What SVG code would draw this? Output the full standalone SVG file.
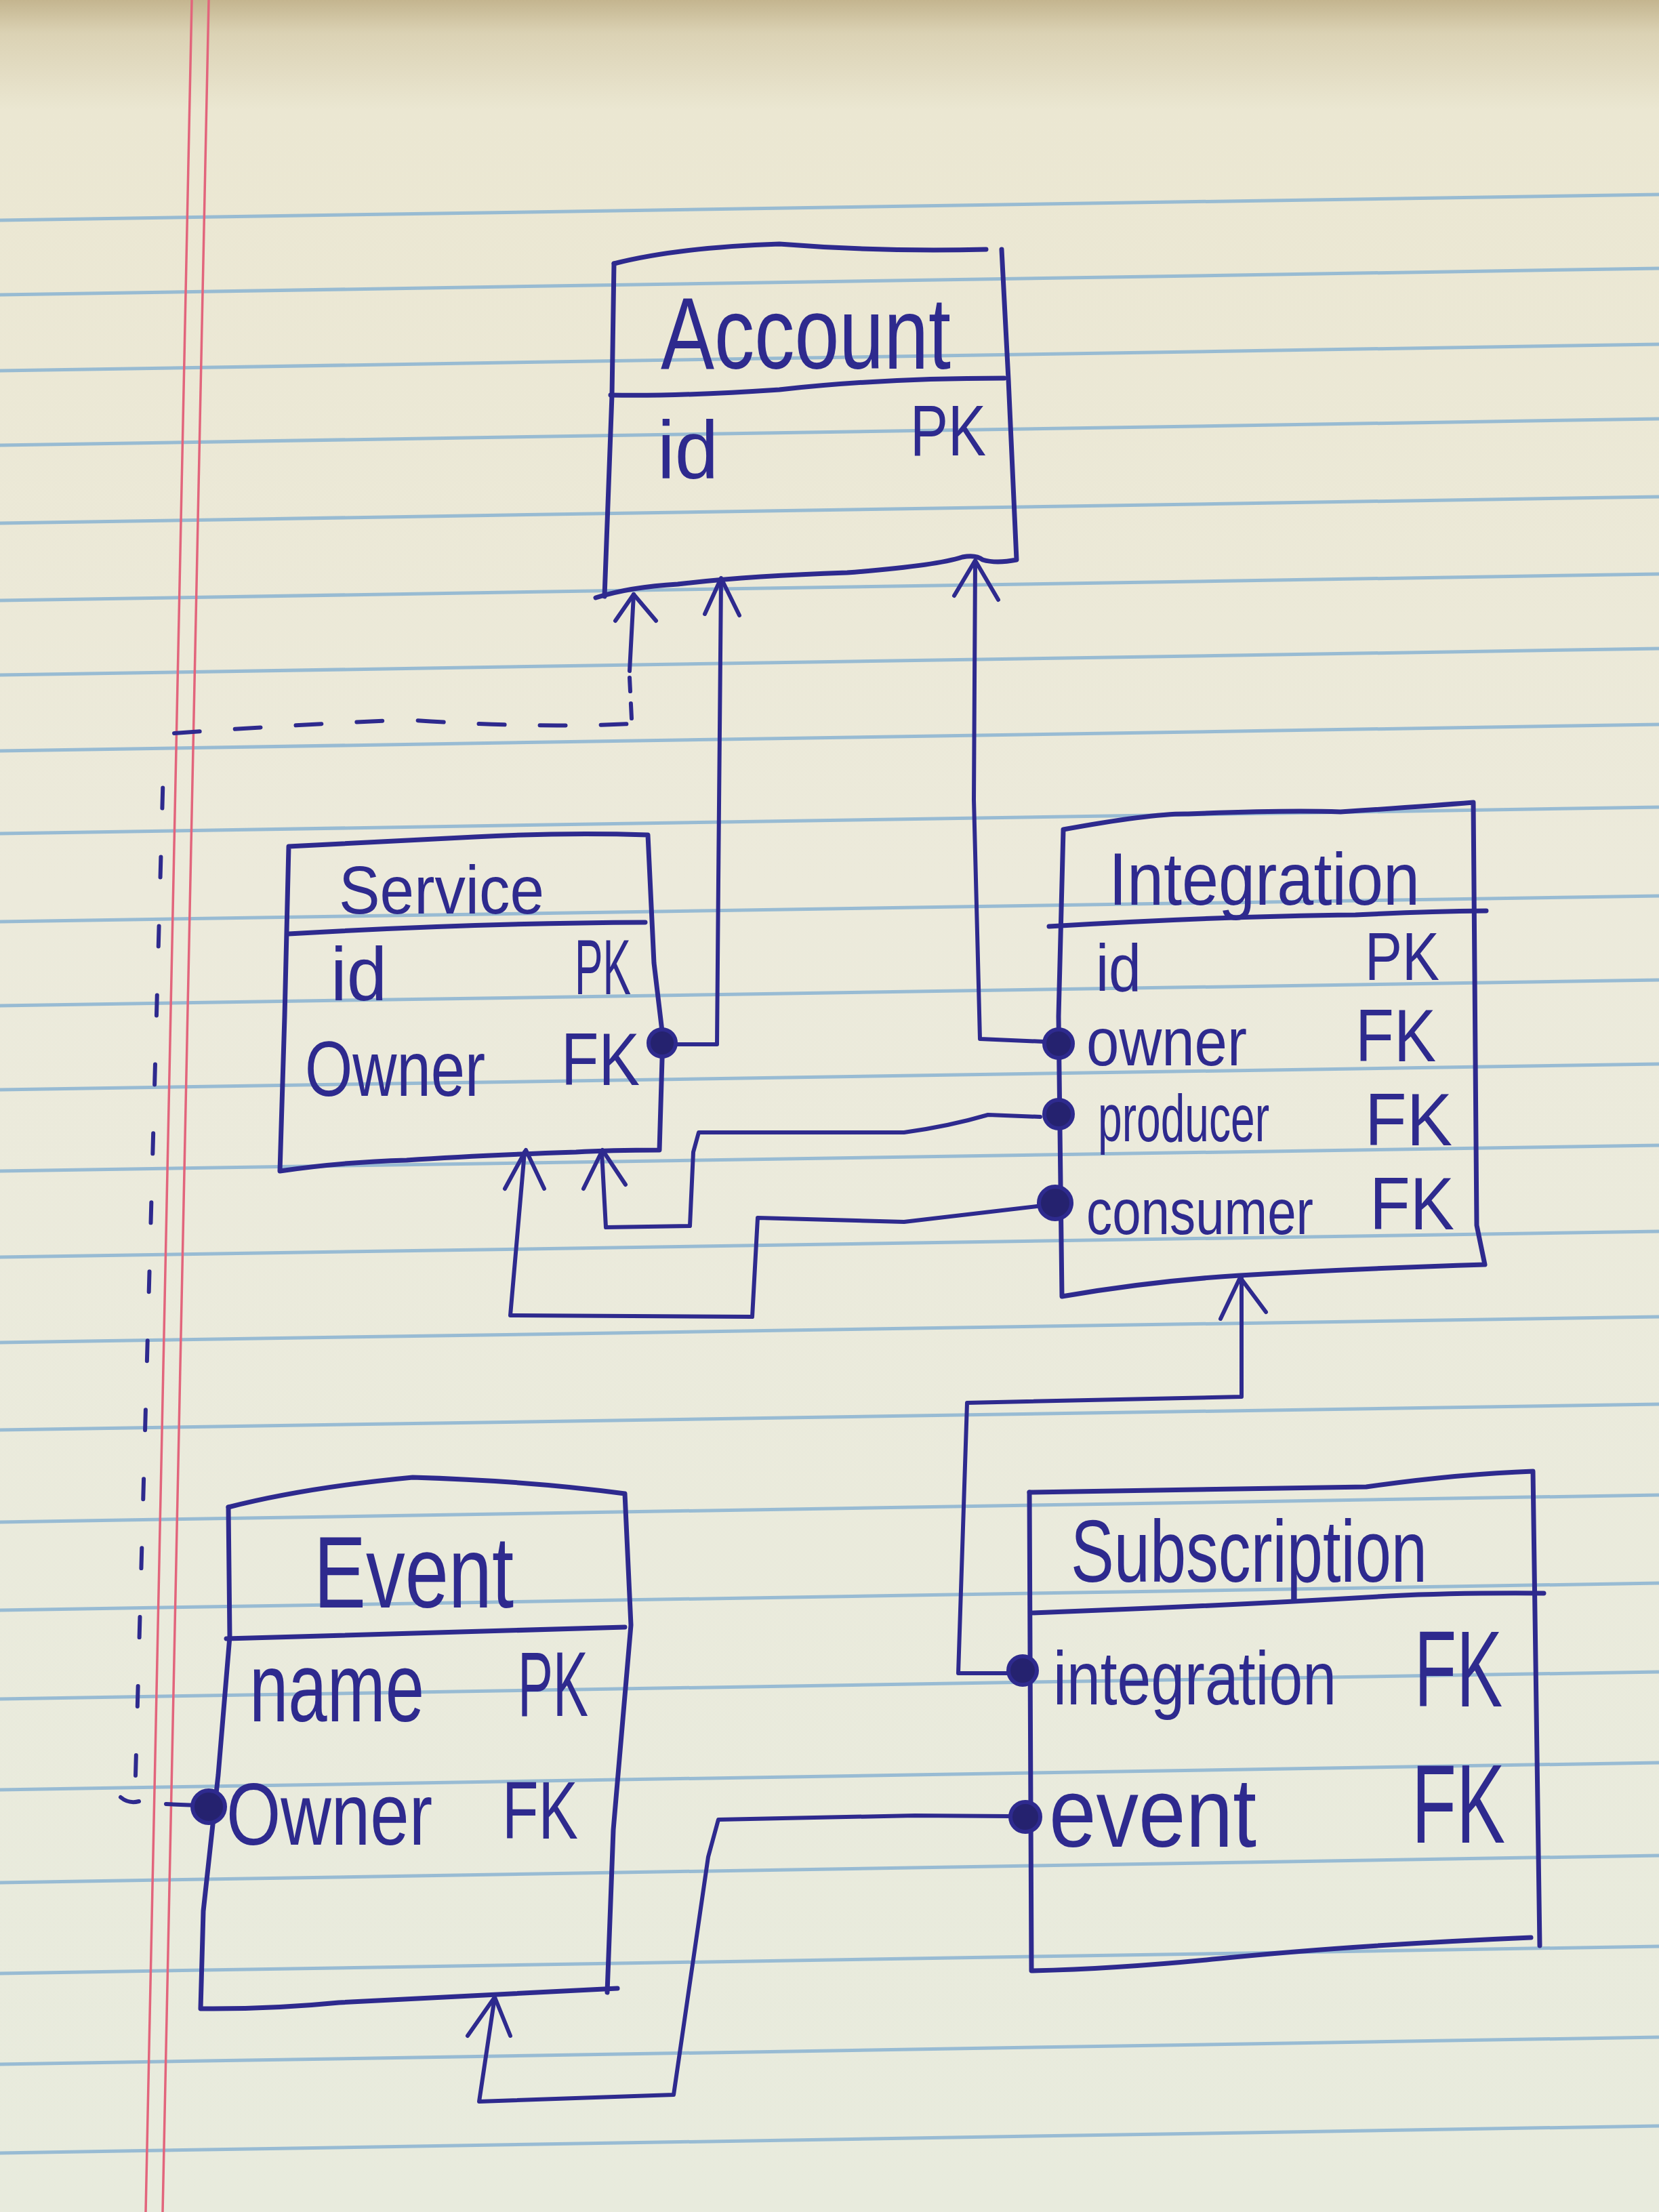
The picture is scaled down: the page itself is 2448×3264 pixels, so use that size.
<svg xmlns="http://www.w3.org/2000/svg" width="2448" height="3264" viewBox="0 0 2448 3264">
<defs>
<linearGradient id="paper" x1="0" y1="0" x2="0" y2="1">
<stop offset="0" stop-color="#c4b58f"/>
<stop offset="0.015" stop-color="#dbd2b4"/>
<stop offset="0.05" stop-color="#ebe7d2"/>
<stop offset="0.4" stop-color="#eceadb"/>
<stop offset="1" stop-color="#e8ebdd"/>
</linearGradient>
<style>
.rule{stroke:#8fb6d2;stroke-width:5;fill:none;opacity:.9}
.margin{stroke:#e2657c;stroke-width:3.5;fill:none}
.box{fill:none;stroke:#2e2a8e;stroke-width:7;stroke-linejoin:round;stroke-linecap:round}
.con{fill:none;stroke:#2e2a8e;stroke-width:6;stroke-linejoin:round;stroke-linecap:round}
.dash{fill:none;stroke:#2e2a8e;stroke-width:6;stroke-linecap:round}
.dot{fill:#25226f;stroke:#2e2a8e;stroke-width:6}
.t{font-family:"Liberation Sans",Arial,sans-serif;fill:#2e2a8e}
</style>
</defs>
<rect width="2448" height="3264" fill="url(#paper)"/>
<g id="paper-rules">
<path class="rule" d="M0,325 L2448,287"/>
<path class="rule" d="M0,435 L2448,396"/>
<path class="rule" d="M0,547 L2448,508"/>
<path class="rule" d="M0,657 L2448,618"/>
<path class="rule" d="M0,772 L2448,733"/>
<path class="rule" d="M0,886 L2448,847"/>
<path class="rule" d="M0,996 L2448,957"/>
<path class="rule" d="M0,1108 L2448,1069"/>
<path class="rule" d="M0,1230 L2448,1191"/>
<path class="rule" d="M0,1360 L2448,1322"/>
<path class="rule" d="M0,1484 L2448,1446"/>
<path class="rule" d="M0,1608 L2448,1570"/>
<path class="rule" d="M0,1728 L2448,1690"/>
<path class="rule" d="M0,1855 L2448,1817"/>
<path class="rule" d="M0,1981 L2448,1943"/>
<path class="rule" d="M0,2110 L2448,2072"/>
<path class="rule" d="M0,2246 L2448,2206"/>
<path class="rule" d="M0,2376 L2448,2336"/>
<path class="rule" d="M0,2507 L2448,2467"/>
<path class="rule" d="M0,2641 L2448,2601"/>
<path class="rule" d="M0,2778 L2448,2738"/>
<path class="rule" d="M0,2912 L2448,2872"/>
<path class="rule" d="M0,3046 L2448,3006"/>
<path class="rule" d="M0,3177 L2448,3137"/>
<path class="margin" d="M283,0 L215,3264"/>
<path class="margin" d="M308,0 L240,3264"/>
</g>

<g id="connectors">
<!-- Service.owner -> Account -->
<path class="con" d="M1000,1541 L1058,1541 L1060,1300 L1064,855"/>
<path class="con" d="M1040,906 L1064,853 L1091,908"/>
<!-- Integration.owner -> Account -->
<path class="con" d="M1540,1537 L1446,1533 L1437,1180 L1439,829"/>
<path class="con" d="M1408,879 L1439,827 L1473,885"/>
<!-- Integration.producer -> Service -->
<path class="con" d="M1535,1648 L1458,1645 Q1400,1662 1334,1671 L1031,1671 L1023,1700 L1018,1809 L894,1811 L888,1700"/>
<path class="con" d="M861,1754 L889,1697 L923,1748"/>
<!-- Integration.consumer -> Service -->
<path class="con" d="M1530,1780 L1334,1803 L1118,1797 L1110,1943 L753,1941 L774,1700"/>
<path class="con" d="M745,1754 L776,1697 L803,1754"/>
<!-- Subscription.integration -> Integration -->
<path class="con" d="M1488,2469 L1414,2469 L1427,2070 L1832,2061 L1832,1886"/>
<path class="con" d="M1801,1946 L1830,1885 L1868,1936"/>
<!-- Subscription.event -> Event -->
<path class="con" d="M1490,2680 L1350,2679 L1060,2685 L1045,2740 L994,3091 L707,3101 L730,2947"/>
<path class="con" d="M690,3004 L730,2947 L753,3004"/>
<!-- Event.owner -> Account (dashed) -->
<path class="con" d="M245,2662 L292,2664"/>
<path class="dash" d="M178,2652 Q190,2662 205,2658"/>
<path class="dash" stroke-dasharray="30 72" d="M200,2620 L242,1098"/>
<path class="dash" stroke-dasharray="38 52" d="M257,1082 Q420,1070 600,1062 Q780,1075 932,1068"/>
<path class="dash" stroke-dasharray="22 18" d="M932,1060 L929,1000"/>
<path class="con" d="M929,990 L935,877"/>
<path class="con" d="M908,916 L935,877 L968,916"/>
</g>

<g id="account">
<path class="box" d="M906,389 Q1000,365 1150,360 Q1300,372 1455,368"/>
<path class="box" d="M1478,368 L1488,560 L1500,826 Q1470,832 1450,826 Q1440,818 1420,822 Q1380,835 1250,845 Q1100,850 1000,862 Q930,866 879,882"/>
<path class="box" d="M906,389 L903,583 L892,880"/>
<path class="box" d="M901,583 Q1000,585 1150,575 Q1300,558 1482,558"/>
<text class="t" x="975" y="544" font-size="150" textLength="428" lengthAdjust="spacingAndGlyphs">Account</text>
<text class="t" x="970" y="705" font-size="120" textLength="90" lengthAdjust="spacingAndGlyphs">id</text>
<text class="t" x="1343" y="672" font-size="105" textLength="112" lengthAdjust="spacingAndGlyphs">PK</text>
</g>

<g id="service">
<path class="box" d="M426,1249 Q600,1240 700,1235 Q830,1228 956,1232 L965,1421 L978,1530 L973,1697 Q900,1697 850,1700 Q700,1705 600,1712 Q500,1715 413,1728 L420,1500 Z"/>
<path class="box" d="M426,1378 Q700,1362 952,1361"/>
<text class="t" x="500" y="1348" font-size="100" textLength="303" lengthAdjust="spacingAndGlyphs">Service</text>
<text class="t" x="488" y="1476" font-size="112" textLength="83" lengthAdjust="spacingAndGlyphs">id</text>
<text class="t" x="848" y="1467" font-size="115" textLength="83" lengthAdjust="spacingAndGlyphs">PK</text>
<text class="t" x="450" y="1617" font-size="115" textLength="266" lengthAdjust="spacingAndGlyphs">Owner</text>
<text class="t" x="828" y="1601" font-size="110" textLength="116" lengthAdjust="spacingAndGlyphs">FK</text>
<circle class="dot" cx="977" cy="1539" r="20"/>
</g>

<g id="integration">
<path class="box" d="M1569,1224 Q1700,1200 1753,1201 Q1900,1195 1978,1198 Q2100,1190 2174,1184 L2179,1808 L2191,1866 Q2000,1872 1830,1882 Q1700,1890 1567,1913 L1562,1500 Z"/>
<path class="box" d="M1548,1367 Q1800,1352 2000,1350 Q2100,1345 2193,1344"/>
<text class="t" x="1636" y="1335" font-size="110" textLength="459" lengthAdjust="spacingAndGlyphs">Integration</text>
<text class="t" x="1617" y="1462" font-size="98" textLength="67" lengthAdjust="spacingAndGlyphs">id</text>
<text class="t" x="2014" y="1446" font-size="100" textLength="110" lengthAdjust="spacingAndGlyphs">PK</text>
<text class="t" x="1603" y="1572" font-size="100" textLength="237" lengthAdjust="spacingAndGlyphs">owner</text>
<text class="t" x="2000" y="1566" font-size="110" textLength="119" lengthAdjust="spacingAndGlyphs">FK</text>
<text class="t" x="1620" y="1684" font-size="98" textLength="253" lengthAdjust="spacingAndGlyphs">producer</text>
<text class="t" x="2014" y="1690" font-size="110" textLength="129" lengthAdjust="spacingAndGlyphs">FK</text>
<text class="t" x="1603" y="1821" font-size="95" textLength="335" lengthAdjust="spacingAndGlyphs">consumer</text>
<text class="t" x="2021" y="1814" font-size="110" textLength="125" lengthAdjust="spacingAndGlyphs">FK</text>
<circle class="dot" cx="1562" cy="1540" r="21"/>
<circle class="dot" cx="1562" cy="1644" r="21"/>
<circle class="dot" cx="1557" cy="1775" r="24"/>
</g>

<g id="event">
<path class="box" d="M337,2224 Q450,2195 609,2180 Q780,2185 922,2204 L931,2398 L905,2700 L896,2940"/>
<path class="box" d="M911,2934 Q700,2945 500,2955 Q400,2965 296,2964 L300,2820 L322,2619 L339,2415 L337,2224"/>
<path class="box" d="M334,2418 Q600,2410 922,2401"/>
<text class="t" x="463" y="2372" font-size="150" textLength="295" lengthAdjust="spacingAndGlyphs">Event</text>
<text class="t" x="368" y="2540" font-size="145" textLength="258" lengthAdjust="spacingAndGlyphs">name</text>
<text class="t" x="764" y="2532" font-size="135" textLength="104" lengthAdjust="spacingAndGlyphs">PK</text>
<text class="t" x="334" y="2722" font-size="130" textLength="304" lengthAdjust="spacingAndGlyphs">Owner</text>
<text class="t" x="741" y="2713" font-size="120" textLength="112" lengthAdjust="spacingAndGlyphs">FK</text>
<circle class="dot" cx="308" cy="2666" r="24"/>
</g>

<g id="subscription">
<path class="box" d="M1519,2202 Q1700,2198 2016,2194 Q2150,2175 2262,2171 L2272,2871"/>
<path class="box" d="M2259,2859 Q2000,2870 1800,2890 Q1650,2905 1522,2908 L1519,2202"/>
<path class="box" d="M1522,2380 Q1800,2370 2050,2355 Q2150,2350 2278,2351"/>
<text class="t" x="1580" y="2334" font-size="130" textLength="526" lengthAdjust="spacingAndGlyphs">Subscription</text>
<text class="t" x="1554" y="2515" font-size="112" textLength="418" lengthAdjust="spacingAndGlyphs">integration</text>
<text class="t" x="2087" y="2518" font-size="160" textLength="130" lengthAdjust="spacingAndGlyphs">FK</text>
<text class="t" x="1548" y="2725" font-size="145" textLength="306" lengthAdjust="spacingAndGlyphs">event</text>
<text class="t" x="2083" y="2719" font-size="165" textLength="138" lengthAdjust="spacingAndGlyphs">FK</text>
<circle class="dot" cx="1509" cy="2465" r="21"/>
<circle class="dot" cx="1513" cy="2681" r="22"/>
</g>
</svg>
